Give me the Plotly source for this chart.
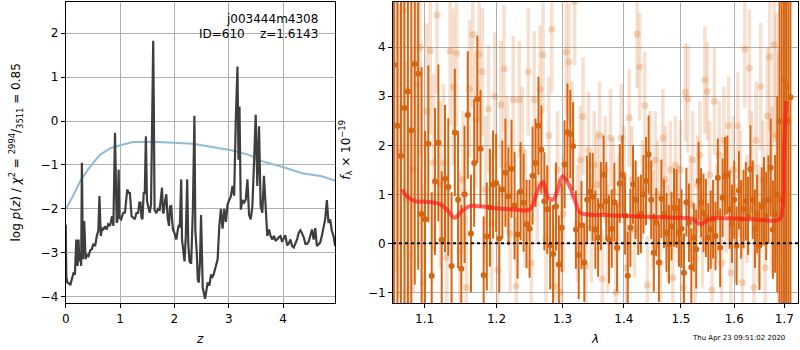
import numpy as np
import plotly.graph_objects as go

# ---------------- redshift probability panel ----------------
pz_z = [0.000, 0.012, 0.030, 0.060, 0.085, 0.110, 0.146, 0.170, 0.195, 0.210,
        0.219, 0.237, 0.250, 0.268, 0.285, 0.298, 0.307, 0.317, 0.341, 0.355,
        0.365, 0.390, 0.420, 0.450, 0.481, 0.510, 0.542, 0.572, 0.600, 0.621,
        0.635, 0.645, 0.670, 0.694, 0.720, 0.755, 0.780, 0.816, 0.852, 0.877,
        0.907, 0.925, 0.938, 0.955, 0.974, 0.990, 1.020, 1.059, 1.090, 1.132,
        1.160, 1.181, 1.212, 1.240, 1.272, 1.300, 1.333, 1.355, 1.376, 1.395,
        1.412, 1.435, 1.455, 1.475, 1.495, 1.516, 1.546, 1.570, 1.600, 1.610,
        1.620, 1.635, 1.668, 1.700, 1.729, 1.750, 1.772, 1.790, 1.802, 1.830,
        1.851, 1.875, 1.900, 1.920, 1.942, 1.960, 1.973, 2.000, 2.034, 2.060,
        2.077, 2.100, 2.125, 2.140, 2.156, 2.186, 2.210, 2.235, 2.255, 2.277,
        2.308, 2.340, 2.368, 2.385, 2.411, 2.430, 2.448, 2.470, 2.490, 2.510,
        2.521, 2.563, 2.590, 2.612, 2.643, 2.673, 2.700, 2.721, 2.764, 2.795,
        2.825, 2.855, 2.886, 2.917, 2.947, 2.977, 3.008, 3.038, 3.069, 3.099,
        3.129, 3.160, 3.178, 3.197, 3.221, 3.251, 3.282, 3.312, 3.343, 3.373,
        3.404, 3.434, 3.464, 3.495, 3.525, 3.556, 3.586, 3.617, 3.647, 3.678,
        3.708, 3.739, 3.769, 3.800, 3.830, 3.860, 3.891, 3.920, 3.952, 3.980,
        4.013, 4.040, 4.073, 4.100, 4.134, 4.165, 4.195, 4.225, 4.256, 4.285,
        4.317, 4.345, 4.378, 4.410, 4.439, 4.470, 4.500, 4.530, 4.561, 4.591,
        4.621, 4.650, 4.682, 4.715, 4.743, 4.773, 4.804, 4.834, 4.865, 4.895,
        4.926, 4.956]
log_pz = [-2.36, -3.55, -3.68, -3.70, -3.74, -3.60, -3.45, -3.50, -2.70, -3.25,
          -3.30, -2.70, -3.20, -3.00, -3.30, -0.95, -3.10, -3.15, -2.28, -3.10,
          -3.15, -3.05, -3.08, -2.95, -2.92, -2.80, -2.85, -2.62, -2.50, -1.71,
          -2.50, -2.62, -2.45, -2.47, -2.40, -2.47, -2.35, -2.39, -2.17, -2.39,
          -0.27, -2.30, -2.32, -2.25, -1.11, -2.20, -2.24, -2.09, -2.09, -1.56,
          -1.64, -1.64, -2.17, -2.20, -2.24, -2.10, -2.09, -1.86, -1.86, -2.20,
          -2.24, -1.64, -1.64, -0.35, -1.80, -1.94, -2.09, -1.90, 1.00, 1.83,
          0.50, -2.02, -2.10, -2.00, -2.02, -1.80, -1.52, -2.10, -2.09, -1.80,
          -1.67, -2.20, -2.39, -1.95, -1.94, -2.30, -2.47, -2.55, -2.70, -2.50,
          -2.39, -2.40, -1.33, -2.70, -2.85, -3.20, -2.60, -1.33, -2.80, -3.20,
          -3.25, -2.00, 0.12, -2.50, -3.00, -3.62, -3.68, -3.20, -2.14, -3.50,
          -3.80, -4.05, -3.80, -3.68, -3.75, -3.50, -3.55, -3.50, -3.30, -3.15,
          -2.40, -2.00, -2.45, -2.00, -2.30, -1.90, -1.80, -1.72, -1.48, -1.70,
          0.03, 1.24, -0.88, 0.33, -2.02, -1.80, -1.86, -1.80, -1.33, -2.14,
          -2.24, -1.94, -0.95, 0.14, -1.48, -0.12, -1.94, -2.09, -1.25, -2.09,
          -2.62, -2.47, -2.62, -2.70, -2.62, -2.72, -2.70, -2.65, -2.62, -2.75,
          -2.66, -2.60, -2.83, -2.80, -2.70, -2.85, -2.88, -2.78, -2.70, -2.55,
          -2.49, -2.55, -2.65, -2.80, -2.80, -2.75, -2.62, -2.47, -2.70, -2.44,
          -2.85, -2.80, -2.77, -2.60, -2.39, -2.24, -1.80, -2.32, -2.24, -2.50,
          -2.62, -2.85]

prior_z = [0.00, 0.13, 0.28, 0.45, 0.63, 0.82, 1.00, 1.24, 1.61, 1.97,
           2.34, 2.64, 3.07, 3.37, 3.62, 3.98, 4.35, 4.71, 4.96]
prior_logp = [-2.01, -1.72, -1.34, -1.04, -0.77, -0.62, -0.55, -0.48, -0.47, -0.49,
              -0.52, -0.58, -0.67, -0.77, -0.92, -1.04, -1.19, -1.26, -1.36]

# ---------------- spectrum panel ----------------
# combined spectrum, sampled on a uniform wavelength grid
lam0_dark, dlam_dark = 1.060, 0.0045
flux_dark = [3.64, 2.40, 1.78, 2.76, 3.10, 2.30, 3.66, 3.46, 0.60,
             0.49, 2.03, -0.66, 1.26, 2.05, 0.07, 1.32, 1.15, -0.46, 2.26,
             0.89, -0.52, 1.00, 2.62, 0.20, 1.64,
             2.94, 1.93, -0.65, 0.14, 0.73, 1.20, 1.23, 0.10, 1.10, 1.44,
             0.96, 1.52, 0.77, 0.18, 1.06, 0.83, 0.39, 0.30, 1.38, 1.64,
             2.40, 1.91, 0.86, 0.69, -0.04, -0.22, 0.75, -0.43,
             0.32, 1.61, 2.26, 2.23, 1.98, 0.28, -0.24, 0.37, -0.39, 0.89,
             1.05, 0.95, 0.28, 0.12, 0.76, 1.40, 0.86, 0.08, 0.30, 0.84,
             -0.09, 1.22, 1.40, 0.57, -0.66, 0.32, 1.20, 0.89, 0.56,
             0.60, 1.00, 1.27, 1.81, 0.89, -0.19, 0.43, -0.39, 0.91, 0.60,
             0.22, -0.02, 0.35, 0.73, 0.71, 0.22, 0.30, -0.60, 0.84, 0.42,
             -0.49, 0.12, -0.12, 1.27, 0.83, 0.62, 0.52, 0.12, 0.28, 0.49,
             0.15, 1.34, -0.09, 0.93,
             1.37, 1.40, 0.69, 0.40, 0.89, -0.05, 1.08, 0.49, 0.70, 0.86,
             0.56, 1.51, 0.89, 0.30, 0.60, -0.05, 0.75, 0.86, 0.56, 0.89,
             1.54, 0.28, 0.60, 1.00, 2.49, 0.89, 3.34, 3.20, 2.50, 2.98]
err_dark = [6.0, 6.0, 6.0, 6.0, 5.0, 5.0, 4.5, 4.0, 3.0,
            1.8, 1.6, 1.7, 1.5, 1.6, 1.4, 1.5, 1.4, 1.5, 1.3,
            1.4, 1.3, 1.4, 1.3, 1.2, 1.3,
            1.3, 1.2, 1.2, 1.1, 1.2, 1.1, 1.0, 1.1, 1.0, 1.1,
            1.0, 1.0, 1.1, 0.9, 1.0, 1.0, 0.9, 1.0, 1.0, 0.9,
            1.0, 0.9, 1.0, 0.9, 0.9, 1.0, 0.9, 1.0,
            0.9, 0.9, 1.0, 0.9, 0.9, 0.8, 0.9, 0.9, 0.8, 0.9,
            0.8, 0.9, 0.8, 0.8, 0.9, 0.8, 0.8, 0.9, 0.8, 0.8,
            0.9, 0.8, 0.8, 0.8, 0.9, 0.8, 0.8, 0.8, 0.8,
            0.8, 0.8, 0.9, 0.8, 0.8, 0.8, 0.7, 0.8, 0.8, 0.7,
            0.8, 0.8, 0.7, 0.8, 0.8, 0.7, 0.8, 0.8, 0.7, 0.8,
            0.8, 0.7, 0.8, 0.8, 0.7, 0.8, 0.8, 0.7, 0.8, 0.8,
            0.7, 0.8, 0.8, 0.8,
            0.8, 0.8, 0.8, 0.8, 0.8, 0.8, 0.8, 0.8, 0.8, 0.8,
            0.8, 0.9, 0.8, 0.8, 0.8, 0.9, 0.8, 0.9, 0.9, 0.9,
            1.0, 1.0, 1.2, 2.0, 5.0, 5.0, 6.0, 6.0, 6.0, 6.0]
lam_dark = np.round(lam0_dark + dlam_dark * np.arange(len(flux_dark)), 4)

# individual exposure spectrum
lam0_light, dlam_light = 1.0625, 0.0045
flux_light = [2.40, 1.88, 4.76, 0.90, -0.22, 1.50, 3.23, 4.00, -0.80,
              2.69, 3.93, 1.65, 4.66, 1.20, 1.64, -0.29, 3.92,
              3.19, 3.88, -0.16, 1.30, -0.90, 3.15, 4.26, 2.52,
              3.86, 3.50, 1.10, 2.74, 0.40, 3.00, -0.55, 2.83,
              3.56, 1.60, 0.20, 2.93, -0.87, 2.93, 1.90, 0.70,
              3.50, -0.40, 2.93, 1.20, 3.14, 3.85, 0.10, 2.20,
              4.37, -0.88, 1.50, -1.00, 0.60, 3.90, 3.70, 2.10,
              4.93, 0.40, 1.70, 2.59, -0.46, 1.90, 0.30, 1.60,
              1.20, 2.20, -0.73, 1.50, 0.10, 2.15, 1.05, -1.00,
              0.80, 2.15, 1.40, -0.50, 2.56, 1.30, 0.30, 4.27,
              3.60, 1.10, 2.81, -0.85, 1.60, 0.50, 1.70, 1.00,
              -0.40, 2.15, 1.30, 0.20, 1.50, -0.70, 1.60, 0.60,
              1.50, -0.90, 3.08, 2.95, 0.80, 1.70, -0.30, 1.20,
              1.80, 0.10, 3.33, 3.10, 1.40, -0.95, 2.90, 0.60,
              1.80, -0.40, 2.10, 0.90, 2.40, -0.60, 1.50, 0.20,
              2.40, 1.20, -0.80, 3.96, 0.70, 3.57, 1.60, -0.90,
              2.10, 0.40, 3.20, 1.30, -0.50, 2.60, 3.80, 1.10,
              4.05, 2.20, 0.90]
err_light = [3.0, 3.0, 3.0, 2.8, 2.6, 2.5, 2.4, 2.2, 2.0,
             1.8, 1.7, 1.8, 1.6, 1.7, 1.6, 1.7, 1.5,
             1.6, 1.5, 1.6, 1.4, 1.5, 1.4, 1.5, 1.4,
             1.4, 1.3, 1.5, 1.3, 1.4, 1.3, 1.4, 1.3,
             1.3, 1.4, 1.2, 1.3, 1.4, 1.2, 1.3, 1.2,
             1.3, 1.2, 1.4, 1.2, 1.3, 1.2, 1.3, 1.2,
             1.3, 1.2, 1.2, 1.3, 1.2, 1.3, 1.2, 1.2,
             1.3, 1.2, 1.1, 1.2, 1.1, 1.2, 1.1, 1.1,
             1.1, 1.1, 1.0, 1.1, 1.1, 1.0, 1.1, 1.1,
             1.0, 1.1, 1.0, 1.1, 1.0, 1.1, 1.0, 1.1,
             1.1, 1.0, 1.1, 1.0, 1.1, 1.0, 1.0, 1.1,
             1.0, 1.0, 1.1, 1.0, 1.0, 1.1, 1.0, 1.0,
             1.0, 1.1, 1.0, 1.1, 1.0, 1.0, 1.1, 1.0,
             1.1, 1.0, 1.1, 1.0, 1.1, 1.0, 1.1, 1.0,
             1.1, 1.0, 1.1, 1.1, 1.0, 1.1, 1.1, 1.0,
             1.1, 1.1, 1.1, 1.2, 1.1, 1.2, 1.1, 1.2,
             1.2, 1.2, 1.3, 1.2, 1.3, 1.4, 1.5, 1.7,
             2.0, 2.5, 3.0]
lam_light = np.round(lam0_light + dlam_light * np.arange(len(flux_light)), 4)

# best-fit template
model_lam = [1.0703, 1.0768, 1.0876, 1.1008, 1.1187, 1.1300, 1.1405, 1.1506, 1.1622,
             1.1787, 1.2025, 1.2268, 1.2492, 1.2619, 1.2695, 1.2761, 1.2849, 1.2916,
             1.3000, 1.3110, 1.3189, 1.3285, 1.3403, 1.3839, 1.4406, 1.5000, 1.5206,
             1.5358, 1.5544, 1.5922, 1.6377, 1.6898, 1.6967, 1.6993, 1.7037]
model_flux = [1.10, 0.96, 0.86, 0.85, 0.81, 0.69, 0.52, 0.66, 0.76,
              0.75, 0.71, 0.69, 0.69, 1.10, 1.25, 0.96, 0.89, 1.07,
              1.37, 1.17, 0.89, 0.62, 0.59, 0.57, 0.54, 0.52, 0.50,
              0.39, 0.50, 0.51, 0.49, 0.49, 0.76, 1.92, 2.90]

wave_ticks = [1.1, 1.2, 1.3, 1.4, 1.5, 1.6, 1.7]

ORANGE = "rgb(214,102,18)"
FONT = "DejaVu Sans"
FS = 12

fig = go.Figure()

fig.add_trace(go.Scatter(x=prior_z, y=prior_logp, mode="lines",
                         line=dict(color="rgb(143,187,217)", width=2),
                         xaxis="x", yaxis="y", showlegend=False))
fig.add_trace(go.Scatter(x=pz_z, y=log_pz, mode="lines",
                         line=dict(color="rgb(62,62,62)", width=2.2),
                         xaxis="x", yaxis="y", showlegend=False))

fig.add_trace(go.Scatter(x=lam_light, y=flux_light, mode="markers",
                         marker=dict(color="rgba(214,102,18,0.25)", size=7),
                         error_y=dict(type="data", array=err_light, width=0,
                                      thickness=3.5, color="rgba(214,102,18,0.2)"),
                         xaxis="x2", yaxis="y2", showlegend=False))
fig.add_trace(go.Scatter(x=lam_dark, y=flux_dark, mode="markers",
                         marker=dict(color=ORANGE, size=6),
                         error_y=dict(type="data", array=err_dark, width=0,
                                      thickness=2, color=ORANGE),
                         xaxis="x2", yaxis="y2", showlegend=False))
fig.add_trace(go.Scatter(x=model_lam, y=model_flux, mode="lines",
                         line=dict(color="rgba(255,20,20,0.65)", width=4, shape="spline"),
                         xaxis="x2", yaxis="y2", showlegend=False))

fig.add_shape(type="line", xref="x2 domain", yref="y2", x0=0, x1=1, y0=0, y1=0,
              line=dict(color="black", width=2, dash="dot"))

axis_common = dict(showline=True, linecolor="black", linewidth=1, mirror=True,
                   ticks="outside", ticklen=4, tickcolor="black",
                   showgrid=True, gridcolor="#b0b0b0", gridwidth=1, zeroline=False,
                   tickfont=dict(family=FONT, size=FS, color="black"))

ydom = [1 - 304 / 350, 1 - 1.7 / 350]
fig.update_layout(
    width=800, height=350, margin=dict(l=0, r=0, t=0, b=0),
    paper_bgcolor="white", plot_bgcolor="white",
    font=dict(family=FONT, size=FS, color="black"),
    xaxis=dict(domain=[62 / 800, 333 / 800], range=[0, 4.96],
               tickvals=[0, 1, 2, 3, 4], anchor="y", **axis_common),
    yaxis=dict(domain=ydom, range=[-4.15, 2.72], tickvals=[-4, -3, -2, -1, 0, 1, 2],
               anchor="x", **axis_common),
    xaxis2=dict(domain=[391 / 800, 798 / 800], type="log",
                range=[0.02482, 0.23761], tickvals=wave_ticks,
                ticktext=[f"{t:.1f}" for t in wave_ticks], anchor="y2",
                layer="above traces", **axis_common),
    yaxis2=dict(domain=ydom, range=[-1.22, 4.93], tickvals=[-1, 0, 1, 2, 3, 4],
                anchor="x2", layer="above traces", **axis_common),
)

annots = [
    dict(text="j003444m4308", x=318 / 800, y=1 - 19.5 / 350, xanchor="right"),
    dict(text="ID=610    z=1.6143", x=318 / 800, y=1 - 34.5 / 350, xanchor="right"),
    dict(text="<i>z</i>", x=197 / 800, y=1 - 340 / 350, xanchor="center"),
    dict(text="<i>λ</i>", x=594 / 800, y=1 - 340 / 350, xanchor="center"),
    dict(text="log <i>p</i>(<i>z</i>) / <i>χ</i><sup>2</sup> = <sup>2994</sup>/<sub>3511</sub> = 0.85",
         x=12 / 800, y=1 - 153 / 350, xanchor="center", textangle=-90),
    dict(text="<i>f</i><sub>λ</sub> × 10<sup>−19</sup>",
         x=343 / 800, y=1 - 150 / 350, xanchor="center", textangle=-90),
    dict(text="Thu Apr 23 09:51:02 2020", x=787 / 800, y=1 - 339 / 350,
         xanchor="right", font=dict(family=FONT, size=7, color="black")),
]
for a in annots:
    a.setdefault("font", dict(family=FONT, size=FS, color="black"))
    fig.add_annotation(xref="paper", yref="paper", yanchor="middle",
                       showarrow=False, **a)

fig.write_html("out.html")
